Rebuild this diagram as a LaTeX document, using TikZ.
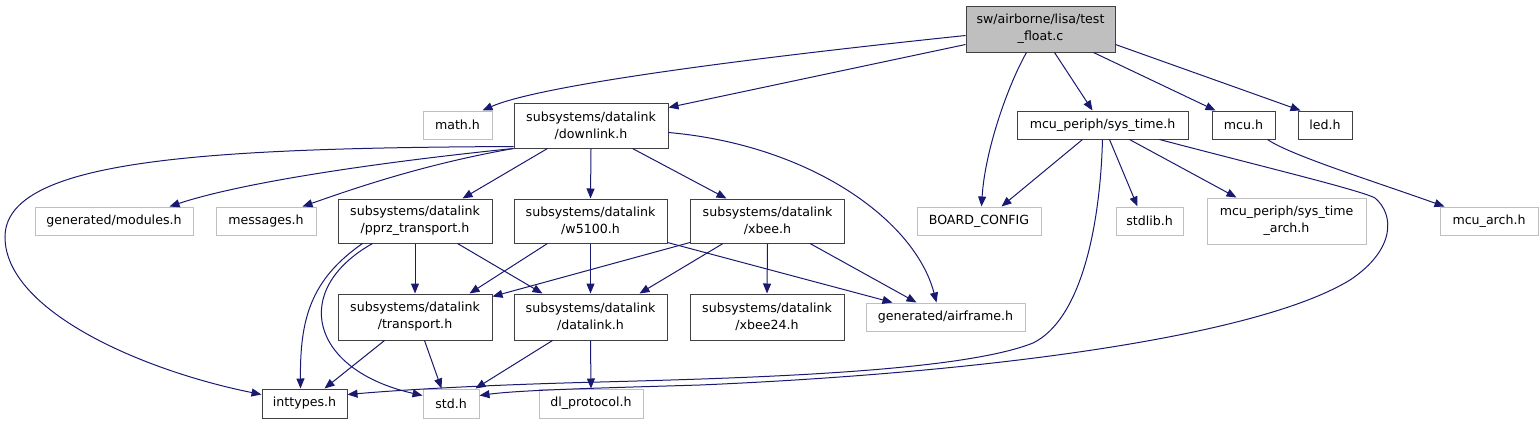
\documentclass[tikz,border=0pt]{standalone}
\usepackage{fontspec}
\setmainfont{DejaVu Sans}
\usetikzlibrary{arrows.meta,calc}
\definecolor{edgeblue}{RGB}{25,25,112}
\definecolor{rootfill}{RGB}{191,191,191}
\definecolor{lightborder}{RGB}{191,191,191}
\definecolor{darkborder}{RGB}{64,64,64}
\begin{document}
\begin{tikzpicture}[x=1pt,y=-1pt,
  box/.style={draw=darkborder, line width=1pt, fill=white, inner sep=0pt, align=center,
              font=\fontsize{12.6}{17}\selectfont},
  ext/.style={box, draw=lightborder},
  root/.style={box, fill=rootfill},
  dep/.style={draw=edgeblue, line width=1pt, -{Triangle[length=10pt,width=8pt]}}]
\useasboundingbox (0,0) rectangle (1539,424);

% row 0
\node[root, minimum width=149pt, minimum height=46pt] (tf) at (1040.5,29) {sw/airborne/lisa/test\\\_float.c};
% row 1
\node[ext, minimum width=69pt, minimum height=28pt] (math) at (457.5,125) {math.h};
\node[box, minimum width=154pt, minimum height=45pt] (dl) at (591,125.5) {subsystems/datalink\\/downlink.h};
\node[box, minimum width=171pt, minimum height=28pt] (sys) at (1102.5,125) {mcu\_periph/sys\_time.h};
\node[box, minimum width=63pt, minimum height=28pt] (mcu) at (1243.5,125) {mcu.h};
\node[box, minimum width=54pt, minimum height=28pt] (led) at (1325,125) {led.h};
% row 2
\node[ext, minimum width=158pt, minimum height=28pt] (mod) at (114,221) {generated/modules.h};
\node[ext, minimum width=100pt, minimum height=28pt] (msg) at (266,221) {messages.h};
\node[box, minimum width=154pt, minimum height=44pt] (pprz) at (415,221) {subsystems/datalink\\/pprz\_transport.h};
\node[box, minimum width=153pt, minimum height=44pt] (w51) at (590.5,221) {subsystems/datalink\\/w5100.h};
\node[box, minimum width=154pt, minimum height=44pt] (xbee) at (767.5,221) {subsystems/datalink\\/xbee.h};
\node[ext, minimum width=124pt, minimum height=28pt] (board) at (979,221) {BOARD\_CONFIG};
\node[ext, minimum width=67pt, minimum height=28pt] (stdlib) at (1149.5,221) {stdlib.h};
\node[ext, minimum width=159pt, minimum height=46pt] (sta) at (1286.5,221) {mcu\_periph/sys\_time\\\_arch.h};
\node[ext, minimum width=98pt, minimum height=28pt] (mcuarch) at (1489,221) {mcu\_arch.h};
% row 3
\node[box, minimum width=154pt, minimum height=46pt] (tr) at (415,317) {subsystems/datalink\\/transport.h};
\node[box, minimum width=153pt, minimum height=46pt] (dlk) at (590.5,317) {subsystems/datalink\\/datalink.h};
\node[box, minimum width=154pt, minimum height=46pt] (xb24) at (767,317) {subsystems/datalink\\/xbee24.h};
\node[ext, minimum width=159pt, minimum height=28pt] (af) at (945.5,317) {generated/airframe.h};
% row 4
\node[box, minimum width=85pt, minimum height=29pt] (int) at (304.5,403.5) {inttypes.h};
\node[ext, minimum width=56pt, minimum height=29pt] (std) at (451,403.5) {std.h};
\node[ext, minimum width=104pt, minimum height=29pt] (dlp) at (591,403.5) {dl\_protocol.h};

% edges from test_float.c
\draw[dep] ($(tf.north west)+(0,30)$) .. controls (750,58) and (540,85) .. ($(math.north west)+(60,0)$);
\draw[dep] ($(tf.north west)+(0,39)$) -- ($(dl.north east)+(0,5)$);
\draw[dep] ($(tf.south west)+(61,0)$) .. controls (1008,85) and (985,150) .. ($(board.north west)+(65,0)$);
\draw[dep] ($(tf.south west)+(89,0)$) -- ($(sys.north west)+(76,0)$);
\draw[dep] ($(tf.south west)+(128,0)$) -- ($(mcu.north west)+(4,0)$);
\draw[dep] ($(tf.north east)+(0,39)$) -- ($(led.north west)+(3,0)$);

% edges from downlink.h
\draw[dep] (dl.south west) .. controls (400,160) and (250,180) .. ($(mod.north west)+(135,0)$);
\draw[dep] (dl.south west) .. controls (420,165) and (350,190) .. ($(msg.north west)+(87,0)$);
\draw[dep] ($(dl.south west)+(0,-2)$) .. controls (200,148) and (5,160) .. (5,237)
            .. controls (5,310) and (140,370) .. ($(int.north west)+(0,6)$);
\draw[dep] ($(dl.south west)+(34,0)$) -- ($(pprz.north west)+(125,0)$);
\draw[dep] (dl.south) -- (w51.north);
\draw[dep] ($(dl.south west)+(119,0)$) -- ($(xbee.north west)+(36.5,0)$);
\draw[dep] ($(dl.north east)+(0,30)$) .. controls (810,145) and (915,220) .. ($(af.north west)+(71,0)$);

% edges from pprz_transport.h
\draw[dep] (pprz.south) -- (tr.north);
\draw[dep] ($(pprz.south west)+(120,0)$) -- ($(dlk.north west)+(29,0)$);
\draw[dep] ($(pprz.south west)+(25,0)$) .. controls (310,280) and (300,320) .. ($(int.north west)+(39,0)$);
\draw[dep] ($(pprz.south west)+(35,0)$) .. controls (290,290) and (310,370) .. ($(std.north west)+(0,7)$);

% edges from w5100.h
\draw[dep] ($(w51.south west)+(34,0)$) -- ($(tr.north west)+(132,0)$);
\draw[dep] (w51.south) -- (dlk.north);
\draw[dep] ($(w51.south east)+(0,-1)$) -- ($(af.north west)+(27,0)$);

% edges from xbee.h
\draw[dep] ($(xbee.south west)+(0,-1)$) -- ($(tr.north east)+(0,3)$);
\draw[dep] ($(xbee.south west)+(33,0)$) -- ($(dlk.north west)+(126,0)$);
\draw[dep] (xbee.south) -- (xb24.north);
\draw[dep] ($(xbee.south west)+(120,0)$) -- ($(af.north west)+(51,0)$);

% edges from transport.h / datalink.h
\draw[dep] ($(tr.south west)+(47,0)$) -- ($(int.north west)+(63,0)$);
\draw[dep] ($(tr.south west)+(87,0)$) -- ($(std.north west)+(19,0)$);
\draw[dep] ($(dlk.south west)+(39,0)$) -- ($(std.north west)+(53,0)$);
\draw[dep] (dlk.south) -- (dlp.north);

% edges from sys_time.h
\draw[dep] ($(sys.south west)+(66,0)$) -- ($(board.north west)+(85,0)$);
\draw[dep] ($(sys.south west)+(93,0)$) -- ($(stdlib.north west)+(22,0)$);
\draw[dep] ($(sys.south west)+(113,0)$) -- ($(sta.north west)+(30,0)$);
\draw[dep] ($(sys.south west)+(143,0)$) .. controls (1260,166) and (1360,190) .. (1375,198)
            .. controls (1395,215) and (1395,250) .. (1350,280)
            .. controls (1260,335) and (1000,372) .. (700,385)
            .. controls (600,388) and (520,390) .. ($(std.north east)+(0,7)$);
\draw[dep] ($(sys.south west)+(86,0)$) .. controls (1100,230) and (1080,320) .. (1033,343)
            .. controls (960,372) and (750,378) .. (600,382)
            .. controls (480,385) and (400,390) .. ($(int.north east)+(0,6)$);

% edge from mcu.h
\draw[dep] ($(mcu.south west)+(56,0)$) .. controls (1290,155) and (1370,180) .. ($(mcuarch.north west)+(5,0)$);
\end{tikzpicture}
\end{document}
